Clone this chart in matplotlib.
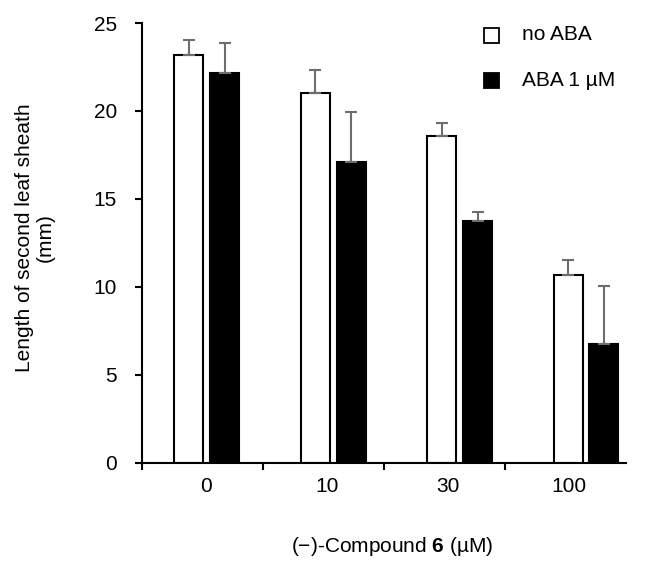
import matplotlib
matplotlib.use("Agg")
import matplotlib.pyplot as plt
import numpy as np
from matplotlib.patches import Rectangle

plt.rcParams['font.family'] = ['Liberation Sans', 'DejaVu Sans']
plt.rcParams['mathtext.fontset'] = 'custom'
plt.rcParams['mathtext.rm'] = 'Liberation Sans'
plt.rcParams['mathtext.bf'] = 'Liberation Sans:bold'

categories = ["0", "10", "30", "100"]
no_aba = [23.18, 21.0, 18.58, 10.68]
no_aba_err = [0.85, 1.33, 0.75, 0.84]
aba = [22.14, 17.12, 13.77, 6.76]
aba_err = [1.71, 2.84, 0.47, 3.30]
series_labels = ["no ABA", "ABA 1 \u00b5M"]

FS = 15

fig = plt.figure(figsize=(6.45, 5.61), dpi=100)
ax = fig.add_axes([0.2202, 0.1747, 0.7503, 0.7843])

n = len(categories)
centers = np.arange(n) * 1.045 + 0.035
w = 0.24
off = 0.148
errkw = dict(ecolor='#6e6e6e', elinewidth=1.5, capsize=4.3, capthick=1.5)
ax.bar(centers - off, no_aba, w, color='white', edgecolor='black', linewidth=1.5,
       yerr=[np.zeros(n), no_aba_err], error_kw=errkw, zorder=2)
ax.bar(centers + off, aba, w, color='black', edgecolor='black', linewidth=1.5,
       yerr=[np.zeros(n), aba_err], error_kw=errkw, zorder=2)

ax.set_xlim(-0.5, n - 0.5)
ax.set_ylim(0, 25)
ax.set_yticks([0, 5, 10, 15, 20, 25])
ax.set_xticks(np.arange(-0.5, n - 0.5, 1.0))
ax.set_xticklabels([])
ax.tick_params(axis='x', which='major', direction='out', length=5, width=1.5)
ax.set_xticks(np.arange(n) + 0.03, minor=True)
ax.set_xticklabels(categories, minor=True)
ax.tick_params(axis='x', which='minor', length=0, pad=10, labelsize=FS)
ax.tick_params(axis='y', direction='out', length=5, width=1.5, labelsize=FS, pad=13)

for s in ['top', 'right']:
    ax.spines[s].set_visible(False)
for s in ['left', 'bottom']:
    ax.spines[s].set_linewidth(1.5)

fig.text(35 / 645, 1 - 238 / 561, "Length of second leaf sheath\n(mm)", rotation=90,
         ha='center', va='center', multialignment='center', fontsize=FS, linespacing=1.15)
fig.text(392 / 645, 1 - 547 / 561, "(\u2212)-Compound $\\mathbf{6}$ (\u00b5M)",
         ha='center', va='center', fontsize=FS)

# legend
for i, (lab, fc) in enumerate(zip(series_labels, ['white', 'black'])):
    yc = 1 - (35 + 45 * i) / 561
    fig.patches.append(Rectangle((484 / 645, yc - 7.5 / 561), 15 / 645, 15 / 561,
                                 transform=fig.transFigure, facecolor=fc,
                                 edgecolor='black', linewidth=1.3))
    fig.text(522 / 645, yc, lab, ha='left', va='center', fontsize=FS)

fig.savefig("out.png", dpi=100)
